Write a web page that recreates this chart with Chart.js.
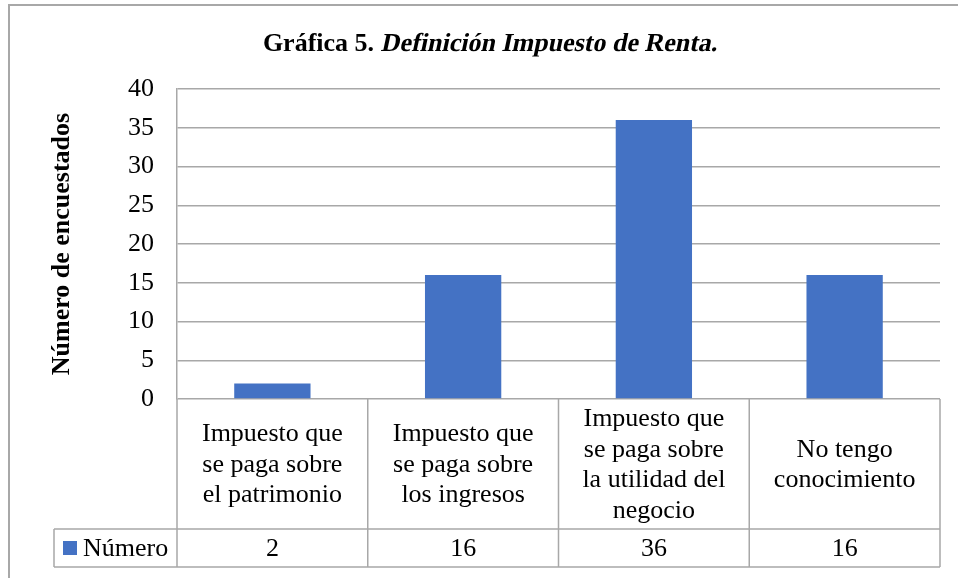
<!DOCTYPE html>
<html>
<head>
<meta charset="utf-8">
<script src="https://cdn.jsdelivr.net/npm/chart.js@4.4.0/dist/chart.umd.min.js"></script>
<style>
  body { margin: 0; background: #fff; }
  #wrap { width: 958px; height: 578px; position: relative; }
</style>
</head>
<body>
<div id="wrap"><canvas id="myChart"></canvas></div>
<script>
// data
const categories = [
    ['Impuesto que', 'se paga sobre', 'el patrimonio'],
    ['Impuesto que', 'se paga sobre', 'los ingresos'],
    ['Impuesto que', 'se paga sobre', 'la utilidad del', 'negocio'],
    ['No tengo', 'conocimiento']
];
const seriesName = 'Número';
const values = [2, 16, 36, 16];
const titleBold = 'Gráfica 5.';
const titleItalic = 'Definición Impuesto de Renta.';
const yTitle = 'Número de encuestados';

const FONT = "'Liberation Serif', 'Times New Roman', serif";
const BAR = '#4472C4';
const LINE = '#a8a8a8';

// title, axis title, frame and data table below the plot
const tablePlugin = {
    id: 'tablePlugin',
    afterDraw(chart) {
        const ctx = chart.ctx;
        const area = chart.chartArea;
        const xs = chart.scales.x;
        const n = categories.length;
        const cw = (area.right - area.left) / n;
        const top = area.bottom;
        const mid = top + 130;
        const bot = mid + 38;
        const keyLeft = 54;

        ctx.save();
        // outer frame (left and top only visible)
        ctx.strokeStyle = LINE;
        ctx.lineWidth = 2;
        ctx.beginPath();
        ctx.moveTo(9, 578);
        ctx.lineTo(9, 5);
        ctx.lineTo(958, 5);
        ctx.stroke();

        // table lines
        ctx.lineWidth = 1.5;
        ctx.beginPath();
        ctx.moveTo(keyLeft, mid); ctx.lineTo(area.right, mid);
        ctx.moveTo(keyLeft, bot); ctx.lineTo(area.right, bot);
        ctx.moveTo(keyLeft, mid); ctx.lineTo(keyLeft, bot);
        for (let i = 0; i <= n; i++) {
            const bx = i < n ? xs.getPixelForValue(i) - cw / 2 : xs.getPixelForValue(n - 1) + cw / 2;
            ctx.moveTo(bx, top); ctx.lineTo(bx, bot);
        }
        ctx.stroke();

        // category labels and values
        ctx.fillStyle = '#000';
        ctx.font = '26px ' + FONT;
        ctx.textAlign = 'center';
        ctx.textBaseline = 'middle';
        categories.forEach((lines, i) => {
            const cx = xs.getPixelForValue(i);
            const lh = 30.5;
            const y0 = (top + mid) / 2 + 1 - (lines.length - 1) * lh / 2;
            lines.forEach((t, j) => ctx.fillText(t, cx, y0 + j * lh));
            ctx.fillText(String(values[i]), cx, (mid + bot) / 2 + 1);
        });

        // legend key
        ctx.fillStyle = BAR;
        ctx.fillRect(63, 541, 14, 14);
        ctx.fillStyle = '#000';
        ctx.textAlign = 'left';
        ctx.fillText(seriesName, 83, (mid + bot) / 2 + 1);

        // title: bold part + slanted bold part (serif italic not always available)
        ctx.font = 'bold 26px ' + FONT;
        const w1 = ctx.measureText(titleBold + ' ').width;
        const w2 = ctx.measureText(titleItalic).width;
        const tx = 490 - (w1 + w2) / 2;
        ctx.textBaseline = 'alphabetic';
        ctx.fillText(titleBold + ' ', tx, 51);
        ctx.save();
        ctx.translate(tx + w1, 51);
        ctx.transform(1, 0, -0.21, 1, 0, 0);
        ctx.fillText(titleItalic, 0, 0);
        ctx.restore();

        // y axis title
        ctx.translate(62, (area.top + area.bottom) / 2);
        ctx.rotate(-Math.PI / 2);
        ctx.font = 'bold 26px ' + FONT;
        ctx.textAlign = 'center';
        ctx.textBaseline = 'middle';
        ctx.fillText(yTitle, 0, 0);
        ctx.restore();
    }
};

const ctx = document.getElementById('myChart').getContext('2d');
const myChart = new Chart(ctx, {
    type: 'bar',
    data: {
        labels: categories,
        datasets: [{
            label: seriesName,
            data: values,
            backgroundColor: BAR,
            barPercentage: 0.4,
            categoryPercentage: 1.0
        }]
    },
    options: {
        responsive: true,
        maintainAspectRatio: false,
        animation: false,
        layout: {
            padding: { top: 89, right: 18, bottom: 179, left: 0 }
        },
        plugins: {
            legend: { display: false },
            tooltip: { enabled: false }
        },
        scales: {
            x: { display: false },
            y: {
                min: 0,
                max: 40,
                afterFit(scale) { scale.width = 177; },
                ticks: {
                    stepSize: 5,
                    color: '#000',
                    padding: 23,
                    font: { family: FONT, size: 26 }
                },
                grid: { color: LINE, lineWidth: 1.5, drawTicks: false },
                border: { color: LINE, width: 1.5 }
            }
        }
    },
    plugins: [tablePlugin]
});
</script>
</body>
</html>
